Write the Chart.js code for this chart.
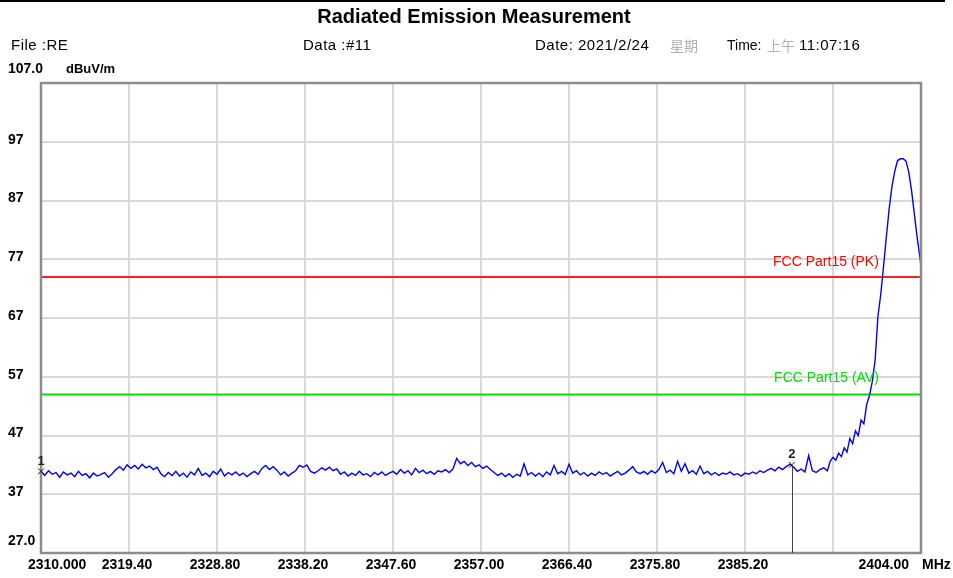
<!DOCTYPE html>
<html>
<head>
<meta charset="utf-8">
<script src="https://cdn.jsdelivr.net/npm/chart.js@4.4.1/dist/chart.umd.min.js"></script>
<style>
body { margin: 0; background: #fff; }
canvas { display: block; }
</style>
</head>
<body>
<canvas id="reChart" width="953" height="578"></canvas>
<script>
// sweep grid of the noise floor part
const freqStart = 2310.0;
const freqStep = 0.4;
const noiseLevels = [
  40.9, 40.2, 41.0, 40.4, 40.7, 39.9, 40.8, 40.3, 40.6, 40.0, 40.9, 40.2, 40.5, 39.8, 40.6, 40.1, 40.4, 40.7, 39.9, 40.5,
  41.2, 41.7, 41.1, 42.0, 41.4, 41.9, 41.3, 42.1, 41.5, 41.8, 41.2, 41.6,
  40.5, 40.0, 40.7, 40.2, 40.9, 40.1, 40.6, 39.9, 40.8, 40.3, 41.4, 40.2, 40.6, 40.0, 40.9, 40.4, 41.3, 40.1, 40.7, 40.3, 40.8,
  40.2, 40.6, 40.0, 40.5, 40.9, 40.4,
  41.4, 41.9, 41.2, 41.7, 41.1,
  40.3, 40.8, 40.1, 40.6, 41.0,
  41.9, 41.6, 42.0,
  40.9, 40.6, 41.0,
  41.5, 41.1, 41.6, 41.0, 41.3,
  40.4, 40.8, 40.1, 40.6, 40.2, 40.9, 40.3, 40.5, 40.0, 40.7, 40.3, 40.8, 40.2, 40.6,
  40.9, 40.4, 41.2, 40.6, 41.0, 40.3, 41.4, 40.7, 41.1, 40.5, 40.9, 40.4, 41.0,
  40.8, 41.2, 40.7, 41.3, 43.1, 42.2, 42.6, 41.9, 42.4, 41.7, 42.0, 41.4, 41.8, 41.2, 40.7,
  40.2, 40.6, 40.0, 40.5, 39.9, 40.4, 40.1,
  42.2, 40.3,
  40.7, 40.1, 40.6, 40.0, 40.8, 40.3,
  41.9,
  40.5, 40.9, 40.4,
  42.1,
  40.6, 41.0, 40.3, 40.7, 40.1, 40.6, 40.2, 40.8, 40.4, 40.7, 40.1, 40.5, 40.9, 40.3, 40.6, 41.1,
  41.7, 40.8, 40.5,
  40.9, 40.4, 41.0, 40.6,
  41.2, 42.4,
  40.7, 41.1, 40.5,
  42.6, 40.9, 42.2,
  40.6, 41.0, 40.4, 41.8,
  40.5, 40.9, 40.3, 40.7, 40.2, 40.6, 40.4, 40.8, 40.3, 40.5, 40.1, 40.6, 40.4, 40.8, 40.5, 41.0, 40.7, 41.1,
  41.4, 41.0, 41.6, 41.2, 41.7,
  42.1, 41.6,
  40.9, 41.3, 40.8,
  43.6,
  41.0, 40.7
];
// carrier skirt and peak
const riseFreqs = [2393.2, 2393.6, 2394.0, 2394.3, 2394.6, 2394.9, 2395.2, 2395.5, 2395.8, 2396.1, 2396.4, 2396.7, 2397.0,
  2397.3, 2397.6, 2397.9, 2398.2, 2398.5, 2398.8, 2399.1, 2399.4, 2399.7, 2400.0, 2400.3, 2400.6, 2400.9, 2401.2, 2401.5,
  2401.8, 2402.1, 2402.4, 2402.7, 2403.0, 2403.3, 2403.6, 2403.9, 2404.0];
const riseLevels = [41.2, 41.5, 41.0, 42.6, 43.3, 42.8, 44.0, 43.4, 44.9, 44.2, 46.5, 45.6, 47.8,
  47.0, 49.6, 49.0, 52.3, 53.8, 56.2, 59.8, 67.3, 71.0, 75.8, 80.8, 85.6, 89.4, 92.0, 93.8,
  94.1, 94.1, 93.7, 91.8, 88.6, 84.6, 80.6, 77.2, 75.8];

const xTicks = [2310.0, 2319.4, 2328.8, 2338.2, 2347.6, 2357.0, 2366.4, 2375.8, 2385.2, 2394.6, 2404.0];
const xTickLabels = ['2310.000', '2319.40', '2328.80', '2338.20', '2347.60', '2357.00', '2366.40', '2375.80', '2385.20', '', '2404.00'];
const yTicks = [27, 37, 47, 57, 67, 77, 87, 97, 107];
const yTickLabels = ['27.0', '37', '47', '57', '67', '77', '87', '97', '107.0'];

const pkLimit = 74;
const avLimit = 54;
const pkName = 'FCC Part15 (PK)';
const avName = 'FCC Part15 (AV)';

const markerNames = ['1', '2'];
const markerFreqs = [2310.0, 2390.2];
const markerLevels = [40.9, 42.0];

const FONT = '"Liberation Sans", Arial, sans-serif';

const trace = noiseLevels.map((v, i) => ({ x: +(freqStart + i * freqStep).toFixed(1), y: v }))
  .concat(riseFreqs.map((f, i) => ({ x: f, y: riseLevels[i] })));

const decor = {
  id: 'decor',
  afterDraw(chart) {
    const c = chart.ctx;
    const xs = chart.scales.x, ys = chart.scales.y;
    const a = chart.chartArea;
    c.save();
    // top rule
    c.fillStyle = '#000';
    c.fillRect(0, 0, 945, 2);
    // frame
    c.strokeStyle = '#8c8c8c';
    c.lineWidth = 2.5;
    c.strokeRect(a.left, a.top, a.right - a.left, a.bottom - a.top);

    // title and header
    c.fillStyle = '#000';
    c.textBaseline = 'middle';
    c.textAlign = 'center';
    c.font = 'bold 20px ' + FONT;
    c.fillText('Radiated Emission Measurement', 474, 17);
    c.textAlign = 'left';
    c.font = '15px ' + FONT;
    c.letterSpacing = '0.5px';
    c.fillText('File :RE', 11, 46);
    c.fillText('Data :#11', 303, 46);
    c.fillText('Date: 2021/2/24', 535, 46);
    c.fillText('11:07:16', 799, 46);
    c.letterSpacing = '0px';
    c.font = '14px ' + FONT;
    c.fillText('Time:', 727, 46);
    c.fillStyle = '#b0b0b0';
    c.font = '14px "Noto Sans CJK SC", sans-serif';
    c.fillText('星期', 670, 46);
    c.fillText('上午', 767, 46);

    // y tick labels
    c.fillStyle = '#000';
    c.font = 'bold 14px ' + FONT;
    yTicks.forEach((v, i) => {
      let y = ys.getPixelForValue(v) - 2;
      if (i === 0) y = ys.getPixelForValue(v) - 12;
      if (i === yTicks.length - 1) y = ys.getPixelForValue(v) - 14;
      c.fillText(yTickLabels[i], 8, y);
    });
    c.font = 'bold 13px ' + FONT;
    c.fillText('dBuV/m', 66, ys.getPixelForValue(107) - 14);

    // x tick labels
    c.font = 'bold 14px ' + FONT;
    const ly = a.bottom + 12;
    xTicks.forEach((v, i) => {
      const x = xs.getPixelForValue(v);
      if (i === 0) { c.textAlign = 'left'; c.fillText(xTickLabels[i], x - 13, ly); }
      else if (i === xTicks.length - 1) { c.textAlign = 'right'; c.fillText(xTickLabels[i], x - 12, ly); }
      else { c.textAlign = 'center'; c.fillText(xTickLabels[i], x - 2, ly); }
    });
    c.textAlign = 'left';
    c.fillText('MHz', a.right + 1, ly);

    // limit names
    c.font = '14px ' + FONT;
    c.textAlign = 'right';
    c.fillStyle = '#ff0000';
    c.fillText(pkName, xs.getPixelForValue(2399.5), ys.getPixelForValue(pkLimit) - 15);
    c.fillStyle = '#00dd00';
    c.fillText(avName, xs.getPixelForValue(2399.5), ys.getPixelForValue(avLimit) - 16);

    // markers
    c.fillStyle = '#222';
    c.font = 'bold 13px ' + FONT;
    c.textAlign = 'center';
    markerFreqs.forEach((f, i) => {
      const x = xs.getPixelForValue(f), y = ys.getPixelForValue(markerLevels[i]);
      c.fillText(markerNames[i], x, y - 10);
      c.strokeStyle = '#222';
      c.lineWidth = 1;
      c.beginPath();
      c.moveTo(x - 3, y - 3); c.lineTo(x + 3, y + 3);
      c.moveTo(x + 3, y - 3); c.lineTo(x - 3, y + 3);
      c.stroke();
      if (i > 0) {
        c.strokeStyle = '#444';
        c.beginPath();
        c.moveTo(Math.round(x) + 0.5, y);
        c.lineTo(Math.round(x) + 0.5, a.bottom);
        c.stroke();
      }
    });
    c.restore();
  }
};

const ctx = document.getElementById('reChart').getContext('2d');
new Chart(ctx, {
  type: 'line',
  data: {
    datasets: [
      {
        label: 'Trace',
        data: trace,
        borderColor: '#0000ff',
        borderWidth: 1.4,
        pointRadius: 0,
        tension: 0
      },
      {
        label: pkName,
        data: [{ x: 2310, y: pkLimit }, { x: 2404, y: pkLimit }],
        borderColor: '#ff2020',
        borderWidth: 2,
        pointRadius: 0
      },
      {
        label: avName,
        data: [{ x: 2310, y: avLimit }, { x: 2404, y: avLimit }],
        borderColor: '#00e000',
        borderWidth: 2,
        pointRadius: 0
      }
    ]
  },
  options: {
    responsive: false,
    animation: false,
    devicePixelRatio: 1,
    layout: { padding: { left: 41, right: 32, top: 83, bottom: 25 } },
    plugins: {
      legend: { display: false },
      tooltip: { enabled: false }
    },
    scales: {
      x: {
        type: 'linear',
        min: 2310,
        max: 2404,
        afterBuildTicks: axis => { axis.ticks = xTicks.map(v => ({ value: v })); },
        ticks: { display: false },
        grid: { color: '#d9d9d9', lineWidth: 2, drawTicks: false },
        border: { display: false }
      },
      y: {
        min: 27,
        max: 107,
        afterBuildTicks: axis => { axis.ticks = yTicks.map(v => ({ value: v })); },
        ticks: { display: false },
        grid: { color: '#d9d9d9', lineWidth: 2, drawTicks: false },
        border: { display: false }
      }
    }
  },
  plugins: [decor]
});
</script>
</body>
</html>
